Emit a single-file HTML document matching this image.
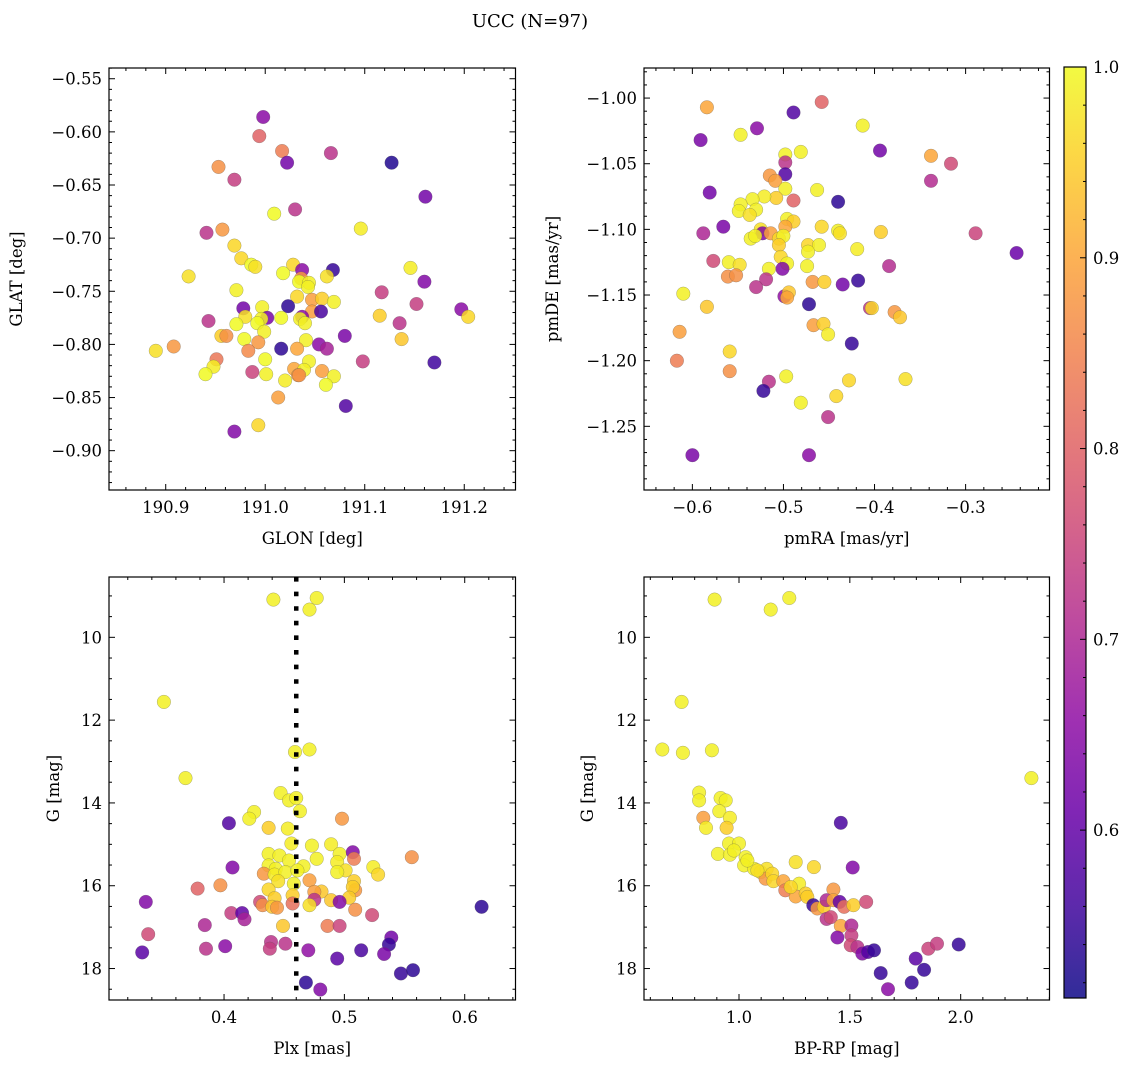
<!DOCTYPE html>
<html>
<head>
<meta charset="utf-8">
<style>
html,body{margin:0;padding:0;background:#fff;}
svg{display:block;}
text{font-family:"DejaVu Serif","Liberation Serif",serif;fill:#000;}
</style>
</head>
<body>
<svg id="fig" width="1136" height="1067" viewBox="0 0 1136 1067" xmlns="http://www.w3.org/2000/svg">
<defs>
<linearGradient id="cbgrad" x1="0" y1="1" x2="0" y2="0">
<stop offset="0" stop-color="#0d0887"/><stop offset="0.1" stop-color="#41049d"/><stop offset="0.2" stop-color="#6a00a8"/><stop offset="0.3" stop-color="#8f0da4"/><stop offset="0.4" stop-color="#b12a90"/><stop offset="0.5" stop-color="#cc4778"/><stop offset="0.6" stop-color="#e16462"/><stop offset="0.7" stop-color="#f2844b"/><stop offset="0.8" stop-color="#fca636"/><stop offset="0.9" stop-color="#fcce25"/><stop offset="1" stop-color="#f0f921"/>
</linearGradient>
</defs>
<text x="530" y="27" font-size="18" text-anchor="middle">UCC (N=97)</text>
</svg>
<script>
// ---------- data: top-left (GLON vs GLAT) ----------
const tlGlon=[190.998,190.994,191.017,191.022,191.066,191.127,190.953,190.969,191.161,191.030,191.009,191.096,190.941,190.957,190.969,190.976,190.986,190.990,190.923,191.028,191.037,191.018,191.068,191.062,191.036,191.034,191.044,191.043,191.146,191.160,190.971,191.117,191.032,191.047,191.057,191.069,191.152,191.197,191.204,190.978,190.997,191.023,191.047,191.056,190.943,190.980,191.002,190.996,190.992,190.971,191.016,191.037,191.035,191.040,191.115,191.135,190.956,190.961,190.999,190.979,190.993,191.041,191.080,191.137,190.890,190.908,190.983,191.016,191.032,191.054,191.062,190.951,191.000,191.044,191.029,191.039,191.033,191.057,191.069,191.098,191.170,190.948,190.940,190.987,191.001,191.020,191.034,191.061,191.013,191.081,190.993,190.969];
const tlGlat=[-0.586,-0.604,-0.618,-0.629,-0.620,-0.629,-0.633,-0.645,-0.661,-0.673,-0.677,-0.691,-0.695,-0.692,-0.707,-0.719,-0.725,-0.727,-0.736,-0.725,-0.730,-0.733,-0.730,-0.736,-0.738,-0.741,-0.742,-0.746,-0.728,-0.741,-0.749,-0.751,-0.755,-0.758,-0.757,-0.760,-0.762,-0.767,-0.774,-0.766,-0.765,-0.764,-0.769,-0.769,-0.778,-0.774,-0.775,-0.776,-0.780,-0.781,-0.775,-0.774,-0.776,-0.780,-0.773,-0.780,-0.792,-0.792,-0.788,-0.795,-0.798,-0.796,-0.792,-0.795,-0.806,-0.802,-0.806,-0.804,-0.804,-0.800,-0.804,-0.814,-0.814,-0.816,-0.823,-0.824,-0.829,-0.825,-0.830,-0.816,-0.817,-0.821,-0.828,-0.826,-0.828,-0.834,-0.829,-0.838,-0.850,-0.858,-0.876,-0.882];
const tlProb=[0.65,0.80,0.84,0.62,0.72,0.53,0.87,0.74,0.62,0.72,1.00,0.985,0.72,0.88,0.96,0.96,1.00,0.97,0.97,0.96,0.65,1.00,0.55,0.97,0.88,1.00,0.99,0.99,0.985,0.64,0.99,0.74,0.96,0.89,0.95,0.99,0.74,0.65,0.96,0.62,0.99,0.54,0.89,0.57,0.72,0.97,0.63,0.99,1.00,1.00,1.00,0.65,0.99,0.99,0.95,0.72,0.95,0.87,0.99,1.00,0.88,0.99,0.63,0.94,0.97,0.88,0.86,0.54,0.90,0.65,0.69,0.83,1.00,0.99,0.90,0.99,0.89,0.89,0.99,0.74,0.56,0.985,1.00,0.75,0.99,0.985,0.87,1.00,0.89,0.58,0.96,0.64];

// ---------- data: top-right (pmRA vs pmDE) ----------
const trPmra=[-0.584,-0.458,-0.489,-0.413,-0.591,-0.547,-0.529,-0.394,-0.338,-0.316,-0.338,-0.498,-0.498,-0.481,-0.498,-0.515,-0.509,-0.498,-0.581,-0.463,-0.440,-0.489,-0.508,-0.521,-0.534,-0.547,-0.549,-0.530,-0.537,-0.566,-0.588,-0.496,-0.489,-0.498,-0.458,-0.440,-0.438,-0.393,-0.289,-0.244,-0.525,-0.523,-0.514,-0.536,-0.531,-0.505,-0.500,-0.505,-0.473,-0.461,-0.473,-0.419,-0.577,-0.560,-0.548,-0.503,-0.496,-0.474,-0.501,-0.516,-0.384,-0.561,-0.552,-0.519,-0.530,-0.468,-0.455,-0.435,-0.418,-0.610,-0.499,-0.494,-0.496,-0.472,-0.584,-0.405,-0.403,-0.378,-0.372,-0.467,-0.456,-0.451,-0.614,-0.425,-0.559,-0.617,-0.559,-0.516,-0.522,-0.497,-0.428,-0.366,-0.442,-0.481,-0.451,-0.600,-0.472];
const trPmde=[-1.007,-1.003,-1.011,-1.021,-1.032,-1.028,-1.023,-1.040,-1.044,-1.050,-1.063,-1.043,-1.049,-1.041,-1.058,-1.059,-1.063,-1.069,-1.072,-1.070,-1.079,-1.078,-1.076,-1.075,-1.077,-1.081,-1.086,-1.085,-1.089,-1.098,-1.103,-1.092,-1.094,-1.098,-1.098,-1.101,-1.103,-1.102,-1.103,-1.118,-1.100,-1.103,-1.103,-1.107,-1.105,-1.107,-1.105,-1.112,-1.112,-1.112,-1.117,-1.115,-1.124,-1.125,-1.127,-1.121,-1.126,-1.128,-1.130,-1.130,-1.128,-1.136,-1.135,-1.138,-1.144,-1.140,-1.140,-1.142,-1.139,-1.149,-1.151,-1.148,-1.152,-1.157,-1.159,-1.160,-1.160,-1.163,-1.167,-1.173,-1.172,-1.180,-1.178,-1.187,-1.193,-1.200,-1.208,-1.216,-1.223,-1.212,-1.215,-1.214,-1.227,-1.232,-1.243,-1.272,-1.272];
const trProb=[0.90,0.80,0.58,0.99,0.63,0.99,0.65,0.62,0.90,0.76,0.71,0.99,0.72,0.99,0.58,0.88,0.89,0.99,0.62,0.99,0.54,0.80,0.95,0.985,0.99,0.99,0.99,0.99,0.97,0.63,0.70,0.99,0.95,0.90,0.96,0.99,0.97,0.95,0.75,0.61,0.97,0.64,0.89,0.99,0.99,0.96,0.99,0.95,0.96,0.99,0.99,0.985,0.76,0.99,0.97,0.96,0.99,0.99,0.64,0.99,0.71,0.87,0.87,0.72,0.72,0.88,0.95,0.62,0.55,0.99,0.66,0.94,0.90,0.54,0.94,0.72,0.96,0.88,0.94,0.89,0.95,0.985,0.89,0.55,0.96,0.84,0.87,0.72,0.55,0.99,0.96,0.97,0.96,0.99,0.72,0.63,0.65];

// ---------- data: bottom-left (Plx vs G) ----------
const blPlx=[0.441,0.471,0.477,0.350,0.459,0.471,0.368,0.447,0.454,0.460,0.463,0.425,0.421,0.404,0.437,0.453,0.498,0.456,0.473,0.489,0.437,0.446,0.454,0.477,0.496,0.507,0.508,0.556,0.407,0.437,0.443,0.466,0.494,0.501,0.524,0.528,0.433,0.442,0.451,0.461,0.494,0.445,0.458,0.471,0.508,0.378,0.397,0.437,0.481,0.475,0.509,0.507,0.457,0.442,0.504,0.335,0.430,0.432,0.457,0.475,0.489,0.496,0.440,0.444,0.471,0.509,0.406,0.415,0.417,0.523,0.614,0.384,0.449,0.486,0.496,0.337,0.539,0.537,0.439,0.438,0.451,0.401,0.385,0.470,0.332,0.494,0.514,0.533,0.547,0.557,0.468,0.480];
const blG=[9.09,9.33,9.05,11.56,12.77,12.71,13.40,13.76,13.94,13.88,14.20,14.22,14.38,14.49,14.60,14.62,14.38,14.98,15.03,15.00,15.23,15.27,15.39,15.35,15.23,15.19,15.35,15.31,15.56,15.51,15.59,15.53,15.43,15.63,15.55,15.73,15.71,15.73,15.67,15.63,15.67,15.89,15.95,15.87,15.89,16.07,15.99,16.09,16.14,16.15,16.11,16.03,16.23,16.30,16.29,16.39,16.39,16.47,16.43,16.34,16.35,16.39,16.51,16.53,16.47,16.58,16.66,16.66,16.81,16.71,16.51,16.95,16.97,16.97,16.97,17.17,17.25,17.42,17.36,17.52,17.40,17.46,17.52,17.56,17.61,17.76,17.56,17.65,18.12,18.04,18.34,18.51];
const blProb=[0.99,0.99,0.99,0.99,0.99,0.99,0.99,0.99,0.99,0.99,0.99,0.99,0.99,0.58,0.95,0.985,0.88,0.985,0.99,0.985,0.99,0.99,0.99,0.99,0.99,0.64,0.84,0.87,0.64,0.99,0.99,0.99,0.985,0.97,0.985,0.96,0.88,0.985,0.99,0.99,0.99,0.97,0.99,0.89,0.95,0.80,0.87,0.96,0.94,0.89,0.88,0.95,0.95,0.95,0.95,0.64,0.76,0.87,0.82,0.72,0.94,0.64,0.94,0.88,0.97,0.87,0.74,0.60,0.69,0.76,0.54,0.70,0.94,0.84,0.75,0.76,0.62,0.55,0.72,0.74,0.72,0.65,0.72,0.66,0.59,0.59,0.57,0.63,0.55,0.54,0.54,0.64];
const plxMean=[0.460];

// ---------- data: bottom-right (BP-RP vs G) ----------
const brBprp=[0.890,1.143,1.227,0.741,0.654,0.747,0.878,2.319,0.820,0.820,0.917,0.940,0.839,0.911,0.959,0.851,0.944,1.459,0.955,1.000,0.905,0.959,1.030,1.023,1.068,1.256,1.338,1.513,1.098,1.125,1.120,1.150,1.155,1.200,1.271,1.209,1.256,1.301,1.308,1.426,1.335,1.353,1.383,1.395,1.426,1.454,1.474,1.516,1.574,1.395,1.414,1.459,1.507,1.444,1.507,1.504,1.534,1.556,1.582,1.609,1.639,1.672,1.779,1.797,1.835,1.854,1.893,1.991,1.038,1.083,0.977,1.233];
const brG=[9.09,9.33,9.05,11.56,12.71,12.79,12.73,13.40,13.75,13.94,13.88,13.94,14.36,14.20,14.36,14.60,14.60,14.48,14.98,14.98,15.23,15.25,15.31,15.51,15.59,15.43,15.55,15.56,15.67,15.59,15.83,15.71,15.89,15.89,15.95,16.11,16.26,16.19,16.27,16.09,16.47,16.55,16.51,16.35,16.35,16.39,16.51,16.47,16.39,16.80,16.76,16.97,16.96,17.25,17.20,17.44,17.48,17.64,17.60,17.56,18.11,18.50,18.34,17.76,18.03,17.52,17.40,17.42,15.39,15.63,15.15,16.03];
const brProb=[0.99,0.99,0.99,0.99,0.99,0.99,0.99,0.99,0.99,0.99,0.99,0.99,0.89,0.99,0.985,0.985,0.95,0.57,0.99,0.99,0.99,0.99,0.99,0.99,0.99,0.97,0.96,0.64,0.97,0.97,0.88,0.96,0.96,0.90,0.985,0.84,0.90,0.95,0.95,0.88,0.55,0.88,0.95,0.70,0.90,0.60,0.82,0.95,0.76,0.72,0.76,0.90,0.70,0.64,0.74,0.76,0.72,0.64,0.58,0.55,0.55,0.65,0.55,0.59,0.55,0.75,0.74,0.55,0.99,0.97,0.99,0.96];

// ---------- colour scale ----------
const cbTicks=[0.6,0.7,0.8,0.9,1.0];
const cbMin=0.512, cbMax=1.0;

const NS='http://www.w3.org/2000/svg';
const svg=document.getElementById('fig');
function mk(tag,attrs,parent){const e=document.createElementNS(NS,tag);for(const k in attrs)e.setAttribute(k,attrs[k]);(parent||svg).appendChild(e);return e;}
const plasma=['#0d0887','#41049d','#6a00a8','#8f0da4','#b12a90','#cc4778','#e16462','#f2844b','#fca636','#fcce25','#f0f921'];
function hex(h){return [parseInt(h.substr(1,2),16),parseInt(h.substr(3,2),16),parseInt(h.substr(5,2),16)];}
function cmap(p){let t=(p-cbMin)/(cbMax-cbMin);t=Math.max(0,Math.min(1,t));const s=t*10;const i=Math.min(9,Math.floor(s));const f=s-i;const a=hex(plasma[i]),b=hex(plasma[i+1]);return 'rgb('+a.map((v,k)=>Math.round(v+(b[k]-v)*f)).join(',')+')';}
function lin(d0,d1,p0,p1){return v=>p0+(v-d0)*(p1-p0)/(d1-d0);}
function fmt(v,dec){const s=Math.abs(v).toFixed(dec);return (v<-1e-9?'\u2212':'')+s;}

function panel(cfg){
  const g=mk('g',{});
  
  
  const sx=lin(cfg.xd[0],cfg.xd[1],cfg.L,cfg.R);
  const sy=lin(cfg.yd[0],cfg.yd[1],cfg.B,cfg.T);
  const cid='clip-'+cfg.name;
  const cp=mk('clipPath',{id:cid},g);mk('rect',{x:cfg.L,y:cfg.T,width:cfg.R-cfg.L,height:cfg.B-cfg.T},cp);
  const pts=mk('g',{'clip-path':'url(#'+cid+')'},g);
  
  
  for(let i=0;i<cfg.xs.length;i++){
    const c=mk('circle',{cx:sx(cfg.xs[i]).toFixed(1),cy:sy(cfg.ys[i]).toFixed(1),r:6.8,fill:cmap(cfg.ps[i]),'fill-opacity':0.85,stroke:'#555','stroke-width':0.4,'stroke-opacity':0.6},pts);
    
    
  }
  if(cfg.vline){
    const ln=mk('line',{x1:sx(cfg.vline[0]),x2:sx(cfg.vline[0]),y1:cfg.T,y2:cfg.B,stroke:'#000','stroke-width':4.5,'stroke-dasharray':'4.6 10'},g);
    
    
  }
  const fr=mk('rect',{x:cfg.L,y:cfg.T,width:cfg.R-cfg.L,height:cfg.B-cfg.T,fill:'none',stroke:'#000','stroke-width':1.2},g);
  
  
  const tk=mk('g',{stroke:'#000','stroke-width':1},g);
  const eps=1e-9;
  const xlo=Math.min(cfg.xd[0],cfg.xd[1]),xhi=Math.max(cfg.xd[0],cfg.xd[1]);
  for(let k=Math.ceil(xlo/cfg.xmin-eps);k*cfg.xmin<=xhi+eps;k++){
    const v=k*cfg.xmin;const px=sx(v);const major=Math.abs(v/cfg.xmaj-Math.round(v/cfg.xmaj))<1e-6;const len=major?6:3;
    mk('line',{x1:px,x2:px,y1:cfg.B,y2:cfg.B-len},tk);mk('line',{x1:px,x2:px,y1:cfg.T,y2:cfg.T+len},tk);
    if(major){const t=mk('text',{x:px,y:cfg.B+23,'font-size':16.5,'text-anchor':'middle'},g);t.textContent=fmt(v,cfg.xdec);
      }
  }
  const ylo=Math.min(cfg.yd[0],cfg.yd[1]),yhi=Math.max(cfg.yd[0],cfg.yd[1]);
  for(let k=Math.ceil(ylo/cfg.ymin-eps);k*cfg.ymin<=yhi+eps;k++){
    const v=k*cfg.ymin;const py=sy(v);const major=Math.abs(v/cfg.ymaj-Math.round(v/cfg.ymaj))<1e-6;const len=major?6:3;
    mk('line',{x1:cfg.L,x2:cfg.L+len,y1:py,y2:py},tk);mk('line',{x1:cfg.R,x2:cfg.R-len,y1:py,y2:py},tk);
    if(major){const t=mk('text',{x:cfg.L-7,y:py+6,'font-size':16.5,'text-anchor':'end'},g);t.textContent=fmt(v,cfg.ydec);
      }
  }
  const xl=mk('text',{x:(cfg.L+cfg.R)/2,y:cfg.B+54,'font-size':16.5,'text-anchor':'middle'},g);xl.textContent=cfg.xlab;
  
  const yc=(cfg.T+cfg.B)/2;
  const yl=mk('text',{x:cfg.ylx,y:yc,'font-size':16.5,'text-anchor':'middle',transform:'rotate(-90 '+cfg.ylx+' '+yc+')'},g);yl.textContent=cfg.ylab;
  
}

panel({name:'glon-glat-panel',L:109,R:515.5,T:68,B:490,xd:[190.843,191.2515],yd:[-0.937,-0.5399],xs:tlGlon,ys:tlGlat,ps:tlProb,xmaj:0.1,xmin:0.02,ymaj:0.05,ymin:0.01,xdec:1,ydec:2,xlab:'GLON [deg]',ylab:'GLAT [deg]',ylx:22});
panel({name:'pm-panel',L:644,R:1049.5,T:68,B:490,xd:[-0.6531,-0.2079],yd:[-1.2985,-0.9771],xs:trPmra,ys:trPmde,ps:trProb,xmaj:0.1,xmin:0.02,ymaj:0.05,ymin:0.01,xdec:1,ydec:2,xlab:'pmRA [mas/yr]',ylab:'pmDE [mas/yr]',ylx:558});
panel({name:'plx-g-panel',L:109,R:515.5,T:577,B:1000,xd:[0.3044,0.6422],yd:[18.76,8.543],xs:blPlx,ys:blG,ps:blProb,xmaj:0.1,xmin:0.02,ymaj:2,ymin:0.5,xdec:1,ydec:0,xlab:'Plx [mas]',ylab:'G [mag]',ylx:59,vline:plxMean});
panel({name:'cmd-panel',L:644,R:1049.5,T:577,B:1000,xd:[0.5715,2.4006],yd:[18.76,8.543],xs:brBprp,ys:brG,ps:brProb,xmaj:0.5,xmin:0.1,ymaj:2,ymin:0.5,xdec:1,ydec:0,xlab:'BP-RP [mag]',ylab:'G [mag]',ylx:593});

// colorbar
(function(){
  const g=mk('g',{});
  
  
  const L=1064,R=1086,T=67,B=998;
  const sc=lin(cbMin,cbMax,B,T);
  mk('rect',{x:L,y:T,width:R-L,height:B-T,fill:'url(#cbgrad)','fill-opacity':0.85},g);
  mk('rect',{x:L,y:T,width:R-L,height:B-T,fill:'none',stroke:'#000','stroke-width':1.2},g);
  for(let k=Math.ceil(cbMin/0.02-1e-9);k*0.02<=cbMax+1e-9;k++){
    const v=k*0.02;const py=sc(v);const major=Math.abs(v*10-Math.round(v*10))<1e-6;
    mk('line',{x1:R,x2:R-(major?6:3),y1:py,y2:py,stroke:'#000','stroke-width':1},g);
  }
  cbTicks.forEach(v=>{const t=mk('text',{x:R+7,y:sc(v)+6,'font-size':16.5},g);t.textContent=v.toFixed(1);
    });
})();
</script>
</body>
</html>
